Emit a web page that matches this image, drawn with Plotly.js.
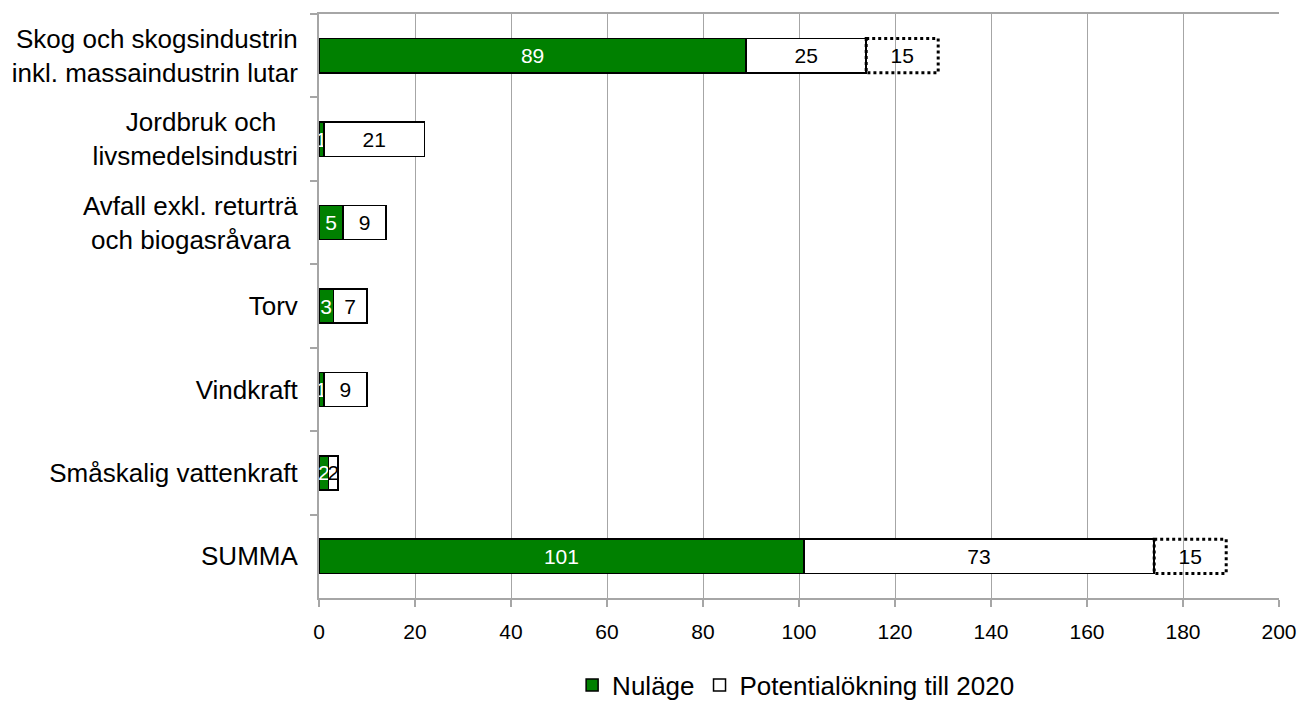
<!DOCTYPE html>
<html><head><meta charset="utf-8">
<script src="https://cdn.plot.ly/plotly-3.0.1.min.js"></script>
<style>body{margin:0;background:#fff}#chart{width:1301px;height:708px}</style>
</head><body><div id="chart"></div>
<script>
const categories = [
  "Skog och skogsindustrin<br>inkl. massaindustrin lutar",
  "Jordbruk och&nbsp;&nbsp;&nbsp;<br>livsmedelsindustri",
  "Avfall exkl. returträ<br>och biogasråvara&nbsp;",
  "Torv",
  "Vindkraft",
  "Småskalig vattenkraft",
  "SUMMA"
];
const nulage = [89, 1, 5, 3, 1, 2, 101];
const potential = [25, 21, 9, 7, 9, 2, 73];
const extra = [15, null, null, null, null, null, 15];
const seriesNames = ["Nuläge", "Potentialökning till 2020"];

const font = "Liberation Sans, Arial, sans-serif";
const barWidth = 0.41;

const traces = [
  {type:'bar', orientation:'h', name:seriesNames[0], y:categories, x:nulage,
   marker:{color:'#008000', line:{color:'#000', width:1.5}},
   text:nulage.map(String), textposition:'inside', insidetextanchor:'middle',
   constraintext:'none', textangle:0,
   textfont:{color:'#fff', size:21, family:font}, width:barWidth},
  {type:'bar', orientation:'h', name:seriesNames[1], y:categories, x:potential,
   marker:{color:'#fff', line:{color:'#000', width:1.5}},
   text:potential.map(String), textposition:'inside', insidetextanchor:'middle',
   constraintext:'none', textangle:0,
   textfont:{color:'#000', size:21, family:font}, width:barWidth},
  {type:'bar', orientation:'h', name:'extra', showlegend:false, y:categories, x:extra,
   marker:{color:'rgba(255,255,255,0)', line:{width:0}},
   text:extra.map(v => v == null ? '' : String(v)), textposition:'inside', insidetextanchor:'middle',
   constraintext:'none', textangle:0,
   textfont:{color:'#000', size:21, family:font}, width:barWidth}
];

const shapes = [];
extra.forEach((v, i) => {
  if (v == null) return;
  const start = nulage[i] + potential[i];
  shapes.push({type:'rect', xref:'x', yref:'y', x0:start, x1:start+v,
    y0:i-barWidth/2, y1:i+barWidth/2, line:{color:'#000', width:3, dash:'dot'}, layer:'above'});
});

const layout = {
  width:1301, height:708,
  margin:{l:319, r:22, t:14, b:110, autoexpand:false},
  paper_bgcolor:'#fff', plot_bgcolor:'#fff',
  barmode:'stack',
  font:{family:font, color:'#000', size:21},
  showlegend:true,
  legend:{orientation:'h', x:0.497, xanchor:'center', y:-0.149, yanchor:'middle',
    font:{size:26, family:font}, traceorder:'normal', itemwidth:30, tracegroupgap:0},
  xaxis:{range:[0,200], dtick:20, showgrid:true, gridcolor:'#a6a6a6', gridwidth:1,
    showline:true, linecolor:'#a6a6a6', linewidth:2, mirror:true,
    ticks:'outside', ticklen:7, tickcolor:'#a6a6a6', tickwidth:2,
    tickfont:{size:21, family:font}, ticklabelstandoff:7, zeroline:false},
  yaxis:{autorange:'reversed', type:'category', showline:true, linecolor:'#a6a6a6', linewidth:2,
    ticks:'outside', tickson:'boundaries', ticklen:7, tickcolor:'#a6a6a6', tickwidth:2,
    tickfont:{size:26, family:font}, showgrid:false, ticklabelstandoff:14},
  shapes:shapes
};

Plotly.newPlot('chart', traces, layout, {displayModeBar:false, staticPlot:true});
</script></body></html>
